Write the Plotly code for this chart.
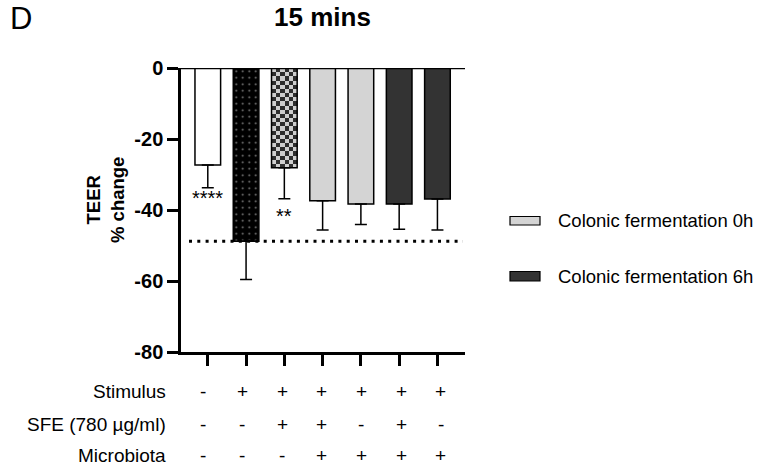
import numpy as np
import plotly.graph_objects as go

# ---- data -------------------------------------------------------------
groups = [0, 1, 2, 3, 4, 5, 6]
teer_change = [-27.3, -48.8, -28.1, -37.4, -38.3, -38.3, -36.9]
teer_sem = [6.4, 10.8, 8.7, 8.2, 5.8, 7.1, 8.7]
significance = ["****", "", "**", "", "", "", ""]

stimulus = ["-", "+", "+", "+", "+", "+", "+"]
sfe = ["-", "-", "+", "+", "-", "+", "-"]
microbiota = ["-", "-", "-", "+", "+", "+", "+"]
row_labels = ["Stimulus", "SFE (780 µg/ml)", "Microbiota"]

legend_names = ["Colonic fermentation 0h", "Colonic fermentation 6h"]
y_ticks = [0, -20, -40, -60, -80]
y_tick_text = ["0", "-20", "-40", "-60", "-80"]

# ---- styling ----------------------------------------------------------
LIGHT = "#d4d4d4"
DARK = "#333333"
FONT = "Liberation Sans, Arial, sans-serif"
bar_fill = ["white", "black", "rgba(0,0,0,0)", LIGHT, LIGHT, DARK, DARK]
pattern_shape = ["", ".", "", "", "", "", ""]
BAR_W = 0.67

# plot-area pixel box, used to place decorations in paper coordinates
L, R, T, B = 181, 465, 68, 352


def px_x(p):
    return (p - L) / (R - L)


def px_y(p):
    return (B - p) / (B - T)


fig = go.Figure()

# checkerboard fill for the stimulus + SFE bar
chk = 2
nx = 6
ny = int(round(abs(teer_change[chk]) * (B - T) / 80 / 4.2))
x_edges = np.linspace(groups[chk] - BAR_W / 2, groups[chk] + BAR_W / 2, nx + 1)
y_edges = np.linspace(0, teer_change[chk], ny + 1)
z = [[(i + j) % 2 for i in range(nx)] for j in range(ny)]
fig.add_trace(go.Heatmap(
    x=x_edges, y=y_edges, z=z, zsmooth=False, showscale=False,
    colorscale=[[0, "#cfcfcf"], [1, "#2e2e2e"]], hoverinfo="skip",
))

fig.add_trace(go.Bar(
    x=groups, y=teer_change, width=BAR_W,
    marker=dict(
        color=bar_fill,
        line=dict(color="black", width=1.5),
        pattern=dict(shape=pattern_shape, bgcolor="black", fgcolor="white",
                     size=6.5, solidity=0.07),
    ),
    error_y=dict(type="data", symmetric=False, array=[0] * len(groups),
                 arrayminus=teer_sem, color="black", thickness=1.5, width=6),
    hoverinfo="skip",
))

# significance stars beneath the error bars
star_shift = {0: 3, 2: -4}
for g, m, e, s in zip(groups, teer_change, teer_sem, significance):
    if s:
        fig.add_annotation(x=g, y=m - e, text=s, showarrow=False, yanchor="top",
                           yshift=star_shift.get(g, 0),
                           font=dict(family=FONT, size=20, color="black"))

# reference line at the stimulus-only mean
fig.add_shape(type="line", xref="paper", yref="y", x0=px_x(189), x1=px_x(463),
              y0=teer_change[1], y1=teer_change[1], layer="above",
              line=dict(color="black", width=3, dash="3px,5.3px"))

# baseline at zero
fig.add_shape(type="line", xref="paper", yref="y", x0=0, x1=1, y0=0, y1=0,
              layer="above", line=dict(color="black", width=2.5))

# treatment table under the axis
row_y = [391, 424, 455]
for lab, ry, vals in zip(row_labels, row_y, [stimulus, sfe, microbiota]):
    fig.add_annotation(xref="paper", yref="paper", x=px_x(167), y=px_y(ry),
                       text=lab, showarrow=False, xanchor="right", yanchor="middle",
                       borderpad=0,
                       font=dict(family=FONT, size=19, color="black"))
    for g, v in zip(groups, vals):
        fig.add_annotation(xref="x", yref="paper", x=g, y=px_y(ry), text=v,
                           showarrow=False, xanchor="center", yanchor="middle",
                           xshift=-5 + 1.4 * g, borderpad=0,
                           font=dict(family=FONT, size=19, color="black"))

# legend
for name, col, (y0, y1) in zip(legend_names, [LIGHT, DARK], [(216.5, 225), (271.5, 281)]):
    fig.add_shape(type="rect", xref="paper", yref="paper",
                  x0=px_x(510), x1=px_x(540), y0=px_y(y1), y1=px_y(y0),
                  fillcolor=col, line=dict(color="black", width=1.2))
    fig.add_annotation(xref="paper", yref="paper", x=px_x(556), y=px_y((y0 + y1) / 2),
                       text=name, showarrow=False, xanchor="left", yanchor="middle",
                       font=dict(family=FONT, size=18.5, color="black"))

# axis title
fig.add_annotation(xref="paper", yref="paper", x=px_x(105), y=px_y(200),
                   text="<b>TEER</b><br><b>% change</b>", textangle=-90, showarrow=False,
                   xanchor="center", yanchor="middle",
                   font=dict(family=FONT, size=18.5, color="black"))

# panel letter
fig.add_annotation(xref="paper", yref="paper", x=px_x(8), y=px_y(19),
                   text="D", showarrow=False, xanchor="left", yanchor="middle",
                   font=dict(family=FONT, size=31, color="black"))

fig.update_layout(
    width=766, height=468,
    margin=dict(l=L, r=766 - R, t=T, b=468 - B),
    plot_bgcolor="white", paper_bgcolor="white",
    showlegend=False,
    title=dict(text="<b>15 mins</b>", x=322.5 / 766, y=1 - 17 / 468,
               xanchor="center", yanchor="middle",
               font=dict(family=FONT, size=26, color="black")),
    xaxis=dict(range=[-0.7, 6.72], showline=True, linecolor="black", linewidth=2.5,
               ticks="outside", tickvals=groups, ticklen=11, tickwidth=2.5,
               tickcolor="black", showticklabels=False, showgrid=False, zeroline=False,
               fixedrange=True),
    yaxis=dict(range=[-80, 0], showline=True, linecolor="black", linewidth=2.5,
               ticks="outside", tickvals=y_ticks, ticktext=y_tick_text, ticklen=11,
               tickwidth=2.5, tickcolor="black", showgrid=False, zeroline=False,
               tickfont=dict(family=FONT, size=20, color="black", weight="bold"),
               fixedrange=True),
)

fig.write_html("out.html")
